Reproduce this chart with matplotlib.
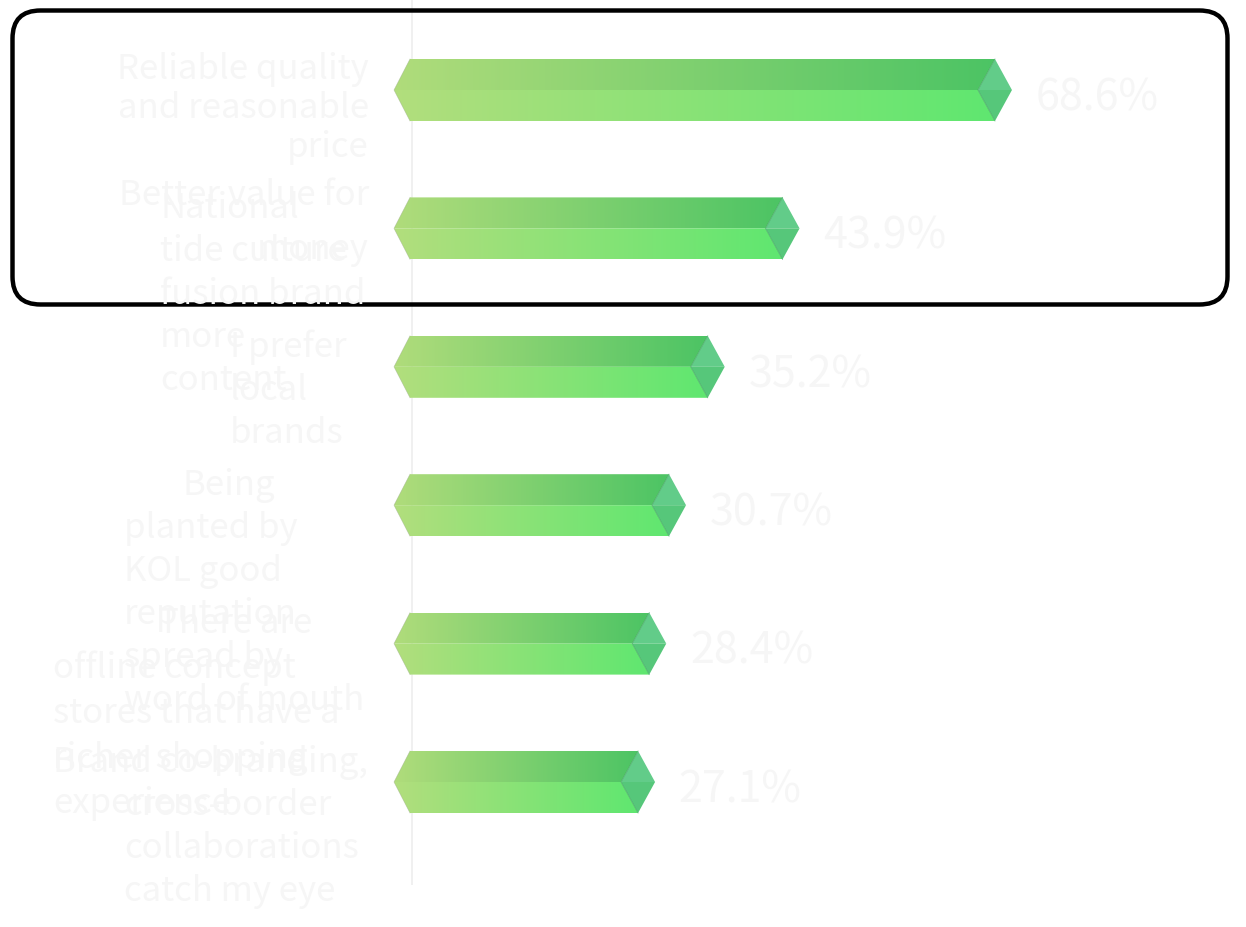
import numpy as np
import matplotlib.pyplot as plt
from matplotlib.patches import Polygon, FancyBboxPatch
from matplotlib.colors import LinearSegmentedColormap

plt.rcParams['font.family'] = ['Noto Sans CJK SC', 'DejaVu Sans']

# category labels, already wrapped the way they are shown
labels = [
    ['Reliable quality', 'and reasonable', 'price'],
    ['Better value for', 'money'],
    ['National', 'tide culture', 'fusion brand', 'more', 'content'],
    ['I prefer', 'local', 'brands'],
    ['Being', 'planted by', 'KOL good', 'reputation', 'spread by', 'word of mouth'],
    ['There are', 'offline concept', 'stores that have a', 'richer shopping', 'experience'],
    ['Brand co-branding,', 'cross-border', 'collaborations', 'catch my eye'],
]
shares = [68.6, 43.9, 35.2, 30.7, 28.4, 27.1]

# label block layout in pixels: x of first line, x of other lines, alignment,
# baseline of first line, baseline of second line
label_pos = [
    (369, 369, 'right', 79, 118),
    (369, 369, 'right', 205, 259),
    (160, 160, 'left', 218, 261),
    (230, 230, 'left', 357, 400),
    (182, 124, 'left', 495, 538),
    (158, 53, 'left', 633, 678),
    (53, 124, 'left', 772, 815),
]

W, H = 1246, 927
PX = 8.6          # pixels per percentage point
X0 = 405          # pixel column of 0 %
AX_LEFT = 370     # left edge of the plotting area in pixels
ROW = 138.4       # pixels between bar centres
Y0 = 90           # pixel row of the first bar centre
AX_BOTTOM = 885   # pixel row where the axis line stops

TEXT = '#f6f6f6'
top_cmap = LinearSegmentedColormap.from_list('top', ['#b0dc7b', '#4cc464'])
bot_cmap = LinearSegmentedColormap.from_list('bot', ['#b2de7d', '#5fe770'])

fig = plt.figure(figsize=(W / 100, H / 100), dpi=100)
fig.patch.set_facecolor('white')

ax = fig.add_axes([AX_LEFT / W, (H - AX_BOTTOM) / H, (W - AX_LEFT) / W, AX_BOTTOM / H])
ax.set_facecolor('none')
for s in ax.spines.values():
    s.set_visible(False)
ax.set_xticks([])
ax.set_yticks([])

# bar shape sizes in data units
half = 31 / ROW
chev = 16 / PX
lead = 5 / PX
cap = 17 / PX

grad = np.linspace(0, 1, 256).reshape(1, -1)
for i, v in enumerate(shares):
    left_tip = -chev + lead
    top = [(left_tip, i), (lead, i - half), (v, i - half), (v - cap, i)]
    bot = [(left_tip, i), (v - cap, i), (v, i + half), (lead, i + half)]
    for pts, cmap in ((top, top_cmap), (bot, bot_cmap)):
        poly = Polygon(pts, closed=True, transform=ax.transData,
                       facecolor='none', edgecolor='none')
        im = ax.imshow(grad, cmap=cmap, aspect='auto', interpolation='bicubic',
                       extent=(left_tip, v, i + half, i - half), zorder=2)
        im.set_clip_path(poly)
    # diamond cap at the end of the bar
    ax.add_patch(Polygon([(v - cap, i), (v, i - half), (v + cap, i)],
                         closed=True, facecolor='#62cc89', edgecolor='none',
                         zorder=3, clip_on=False))
    ax.add_patch(Polygon([(v - cap, i), (v + cap, i), (v, i + half)],
                         closed=True, facecolor='#56c77a', edgecolor='none',
                         zorder=3, clip_on=False))
    ax.plot([v, v - cap, v], [i - half, i, i + half], color='#3f9a5c',
            lw=0.6, alpha=0.6, zorder=4, clip_on=False)
    ax.plot([lead, left_tip, lead], [i - half, i, i + half], color='#9aab88',
            lw=0.5, alpha=0.5, zorder=4, clip_on=False)
    ax.annotate(f'{v}%', xy=(v + cap, i), xytext=(17, -6), textcoords='offset points',
                ha='left', va='center', fontsize=31, color=TEXT, zorder=5)

ax.axvline((412 - X0) / PX, color='#eeeeee', lw=1.2, zorder=1)
ax.set_xlim((AX_LEFT - X0) / PX, (W - X0) / PX)
ax.set_ylim((AX_BOTTOM - Y0) / ROW, -Y0 / ROW)

# overlay in pixel units for the frame and the category labels
lay = fig.add_axes([0, 0, 1, 1], zorder=5)
lay.set_xlim(0, W)
lay.set_ylim(H, 0)
lay.axis('off')
lay.patch.set_alpha(0)

lay.add_patch(FancyBboxPatch((12.5 + 28, 10.5 + 28), 1215 - 56, 294 - 56,
                             boxstyle='round,pad=28', facecolor='none',
                             edgecolor='black', lw=3.2, zorder=1))

for lines, (xf, xr, ha, y1, y2) in zip(labels, label_pos):
    step = y2 - y1
    for k, line in enumerate(lines):
        x = xf if k == 0 else xr
        lay.text(x, y1 + k * step, line, ha=ha, va='baseline',
                 fontsize=25, color=TEXT, zorder=3)

fig.savefig('out.png', dpi=100)
